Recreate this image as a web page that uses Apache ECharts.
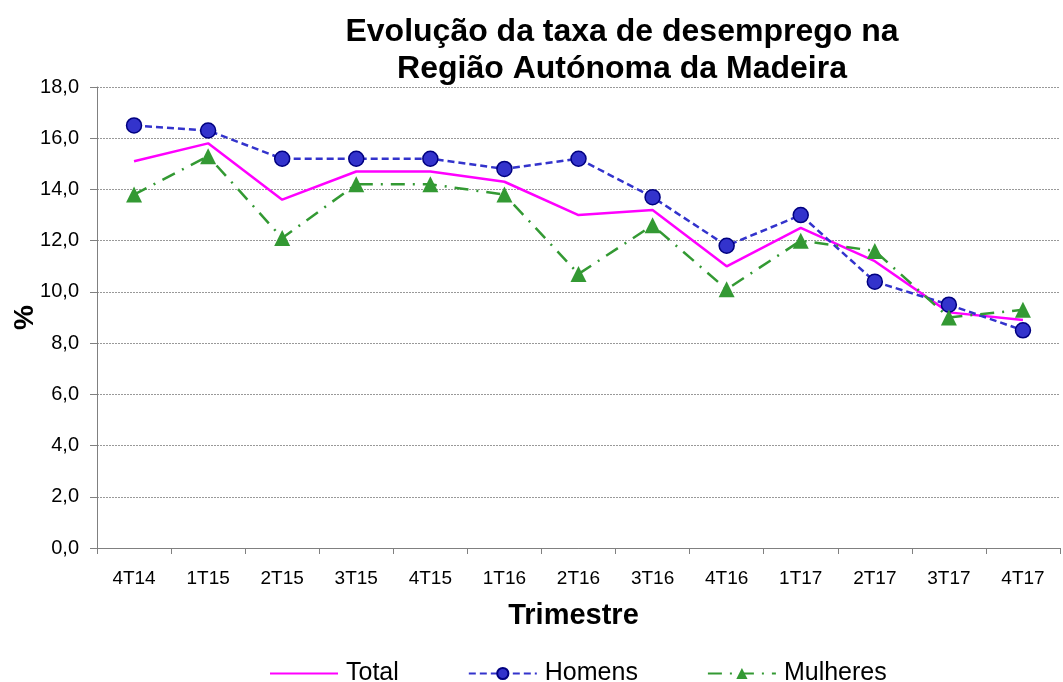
<!DOCTYPE html>
<html><head><meta charset="utf-8">
<script src="https://cdn.jsdelivr.net/npm/echarts@6/dist/echarts.min.js"></script>
<style>html,body{margin:0;padding:0;background:#fff}#c{width:1063px;height:682px}</style>
</head><body><div id="c"></div>
<script>
const categories = ['4T14','1T15','2T15','3T15','4T15','1T16','2T16','3T16','4T16','1T17','2T17','3T17','4T17'];
const total = [15.1,15.8,13.6,14.7,14.7,14.3,13.0,13.2,11.0,12.5,11.2,9.2,8.9];
const homens = [16.5,16.3,15.2,15.2,15.2,14.8,15.2,13.7,11.8,13.0,10.4,9.5,8.5];
const mulheres = [13.8,15.3,12.1,14.2,14.2,13.8,10.7,12.6,10.1,12.0,11.6,9.0,9.3];
const font = 'Liberation Sans, Arial, sans-serif';
const chart = echarts.init(document.getElementById('c'));
chart.setOption({
  animation:false,
  title:{text:'Evolução da taxa de desemprego na\nRegião Autónoma da Madeira',left:617,textAlign:'center',top:9,
    textStyle:{fontFamily:font,fontSize:32,fontWeight:'bold',color:'#000',lineHeight:37}},
  grid:{left:97,right:3,top:87,bottom:134,outerBoundsMode:'none',containLabel:false},
  legend:{top:656,left:264,itemGap:69,itemWidth:68,itemHeight:14,
    textStyle:{fontFamily:font,fontSize:25,color:'#000',padding:[0,0,0,3]},
    data:[{name:'Total',itemStyle:{opacity:0}},'Homens','Mulheres']},
  xAxis:{type:'category',data:categories,boundaryGap:true,
    name:'Trimestre',nameLocation:'middle',nameGap:53,nameMoveOverlap:false,
    nameTextStyle:{fontFamily:font,fontSize:29,fontWeight:'bold',color:'#000',padding:[0,10,0,0]},
    axisLine:{lineStyle:{color:'#808080',width:1}},
    axisTick:{show:true,interval:0,length:6,lineStyle:{color:'#808080'}},
    axisLabel:{interval:0,fontFamily:font,fontSize:19,color:'#000',margin:21}},
  yAxis:{type:'value',min:0,max:18,interval:2,
    name:'%',nameLocation:'middle',nameGap:58,nameRotate:90,nameMoveOverlap:false,
    nameTextStyle:{fontFamily:font,fontSize:28,fontWeight:'bold',color:'#000'},
    axisLine:{show:true,lineStyle:{color:'#808080',width:1}},
    axisTick:{show:true,length:7,inside:false,lineStyle:{color:'#808080'}},
    splitLine:{lineStyle:{color:'#999',type:[2,1],width:1}},
    axisLabel:{fontFamily:font,fontSize:20,color:'#000',margin:18,formatter:v=>v.toFixed(1).replace('.',',')}},
  series:[
    {name:'Total',type:'line',data:total,symbol:'none',lineStyle:{color:'#FF00FF',width:2.5},itemStyle:{color:'#FF00FF'}},
    {name:'Homens',type:'line',data:homens,symbol:'circle',symbolSize:15,
      lineStyle:{color:'#3333CC',width:2.5,type:[7,4]},
      itemStyle:{color:'#3333CC',borderColor:'#000080',borderWidth:1.5}},
    {name:'Mulheres',type:'line',data:mulheres,symbol:'triangle',symbolSize:16,
      lineStyle:{color:'#339933',width:2.5,type:[14,8,2,8]},
      itemStyle:{color:'#339933',borderColor:'#339933',borderWidth:0}}
  ]
});
</script></body></html>
